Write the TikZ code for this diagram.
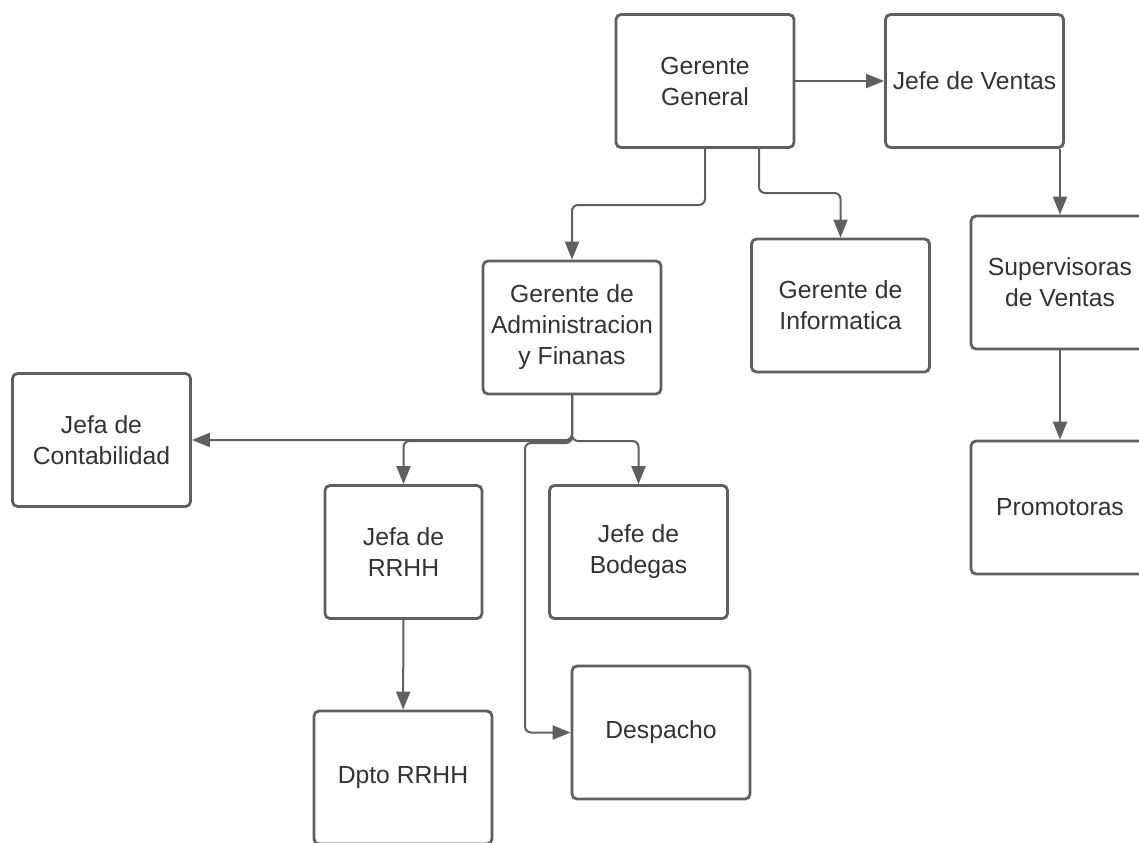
\documentclass[tikz,border=0pt]{standalone}
\usepackage{fontspec}
\setmainfont{Liberation Sans}
\usetikzlibrary{arrows.meta}
\definecolor{linegray}{HTML}{5F5F5F}
\definecolor{textgray}{HTML}{333333}
\begin{document}
\begin{tikzpicture}[x=0.5pt,y=-0.5pt,
  box/.style={draw=linegray,line width=1.4pt,rounded corners=2.5pt,fill=white,minimum width=89pt,minimum height=66.5pt,inner sep=0pt,align=center,text=textgray,font=\fontsize{12.35}{15.5}\selectfont},
  conn/.style={draw=linegray,line width=1pt,rounded corners=3pt,-{Triangle[length=9pt,width=7pt]}}]
\useasboundingbox (0,0) rectangle (1139,842);
\clip (0,0) rectangle (1139,842);
\node[box] (gg) at (705,81) {Gerente\\General};
\node[box] (jv) at (974.5,81) {Jefe de Ventas};
\node[box] (sv) at (1060,282.5) {Supervisoras\\de Ventas};
\node[box] (pr) at (1060,507.5) {Promotoras};
\node[box] (af) at (572,327.5) {Gerente de\\Administracion\\y Finanas};
\node[box] (gi) at (840.5,305.5) {Gerente de\\Informatica};
\node[box] (jc) at (101.5,440) {Jefa de\\Contabilidad};
\node[box,minimum width=78.5pt] (rh) at (403.5,552) {Jefa de\\RRHH};
\node[box] (bo) at (638.5,552) {Jefe de\\Bodegas};
\node[box] (de) at (661,732.5) {Despacho};
\node[box] (dr) at (403,777.5) {Dpto RRHH};
\draw[conn] (gg.east) -- (jv.west);
\draw[conn] (jv.south -| sv.north) -- (sv.north);
\draw[conn] (sv) -- (pr);
\draw[conn] (gg.south) |- (af.north |- 0,205) -- (af.north);
\draw[conn] (759,0 |- gg.south) |- (gi.north |- 0,193) -- (gi.north);
\draw[conn] (af.south) |- (jc.east);
\draw[conn] (af.south) |- (rh.north |- 0,441) -- (rh.north);
\draw[conn] (af.south) |- (bo.north |- 0,441) -- (bo.north);
\draw[conn] (af.south) |- (525,443) |- (de.west);
\draw[conn] (rh) -- (dr);
\end{tikzpicture}
\end{document}
